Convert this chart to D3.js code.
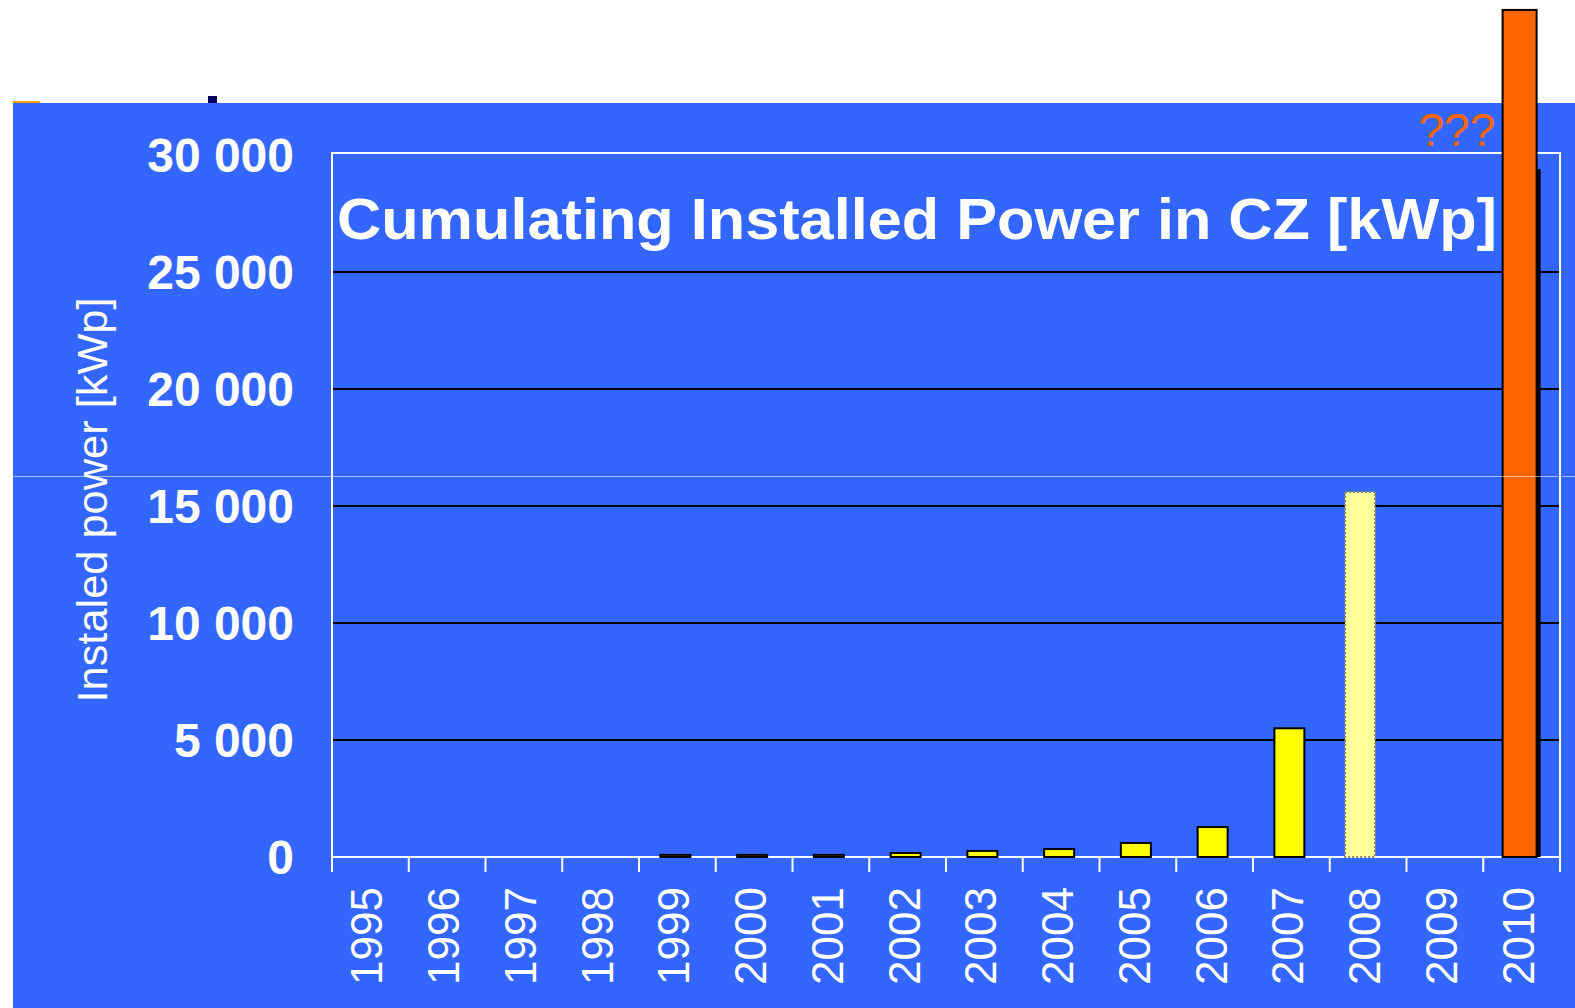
<!DOCTYPE html>
<html>
<head>
<meta charset="utf-8">
<script src="https://cdn.jsdelivr.net/npm/d3@7"></script>
<style>
  html, body { margin: 0; padding: 0; background: #fff; }
  svg { display: block; }
</style>
</head>
<body>
<div id="chart"></div>
<script>
// years on the x axis
var years = ["1995", "1996", "1997", "1998", "1999", "2000", "2001", "2002",
  "2003", "2004", "2005", "2006", "2007", "2008", "2009", "2010"];
// cumulative installed power [kWp]
var installed = [0, 0, 0, 0, 90, 90, 90, 170, 260, 340, 600, 1280, 5500, 15600, 0, 29400];
// the orange "???" guess for 2010, runs out of the frame
var guessYear = "2010";
var guessValue = 36200;
// year drawn as a pale, dotted bar
var paleYears = ["2008"];
var yTicks = [0, 5000, 10000, 15000, 20000, 25000, 30000];

var width = 1575, height = 1008;
var margin = {left: 332, right: 15, top: 155, bottom: 151};

var svg = d3.select('#chart')
  .append('svg')
  .attr('width', width)
  .attr('height', height);

//Blue slide background
svg.append('rect')
  .attr('x', 13).attr('y', 103)
  .attr('width', width - 13).attr('height', height - 103)
  .attr('fill', '#3366ff');

// little leftovers on the slide edge
svg.append('rect').attr('x', 13).attr('y', 101).attr('width', 27).attr('height', 2).attr('fill', '#ff9900');
svg.append('rect').attr('x', 208).attr('y', 96).attr('width', 9).attr('height', 7).attr('fill', '#000066');

var x = d3.scaleBand()
  .domain(years)
  .range([margin.left, width - margin.right]);

var y = d3.scaleLinear()
  .domain([0, 30000])
  .range([height - margin.bottom, margin.top]);

var fmt = function (d) {
  return d3.format(',')(d).replace(/,/g, ' ');
};

//Grid lines
svg.selectAll('.grid')
  .data(yTicks.filter(function (d) { return d > 0 && d < 30000; }))
  .enter()
  .append('line')
  .attr('class', 'grid')
  .attr('x1', x.range()[0])
  .attr('x2', x.range()[1])
  .attr('y1', function (d) { return y(d); })
  .attr('y2', function (d) { return y(d); })
  .style('stroke', '#000')
  .style('stroke-width', '2px');

//Plot frame
svg.append('rect')
  .attr('x', x.range()[0])
  .attr('y', y(30000) - 2)
  .attr('width', x.range()[1] - x.range()[0])
  .attr('height', y(0) - y(30000) + 2)
  .attr('fill', 'none')
  .style('stroke', '#fff')
  .style('stroke-width', '2px');

//Title inside the plot
svg.append('text')
  .attr('x', x.range()[0] + 5)
  .attr('y', 239)
  .attr('textLength', 1160)
  .attr('lengthAdjust', 'spacingAndGlyphs')
  .style('font-family', 'Liberation Sans, Arial, sans-serif')
  .style('font-weight', 'bold')
  .style('font-size', '57px')
  .attr('fill', '#fff')
  .text('Cumulating Installed Power in CZ [kWp]');

//Y tick labels
svg.selectAll('.yLabel')
  .data(yTicks)
  .enter()
  .append('text')
  .attr('class', 'yLabel')
  .attr('x', 294)
  .attr('y', function (d) { return y(d); })
  .attr('dy', '0.36em')
  .attr('text-anchor', 'end')
  .style('font-family', 'Liberation Sans, Arial, sans-serif')
  .style('font-weight', 'bold')
  .style('font-size', '48px')
  .attr('fill', '#fff')
  .text(fmt);

//Y axis title
svg.append('text')
  .attr('transform', 'translate(107,' + 500 + ') rotate(-90)')
  .attr('text-anchor', 'middle')
  .attr('textLength', 405)
  .attr('lengthAdjust', 'spacingAndGlyphs')
  .style('font-family', 'Liberation Sans, Arial, sans-serif')
  .style('font-size', '42px')
  .attr('fill', '#fff')
  .text('Instaled power [kWp]');

//X ticks at band edges
var edges = years.map(function (d) { return x(d); }).concat([x.range()[1]]);
svg.selectAll('.xTick')
  .data(edges)
  .enter()
  .append('line')
  .attr('class', 'xTick')
  .attr('x1', function (d) { return d; })
  .attr('x2', function (d) { return d; })
  .attr('y1', y(0))
  .attr('y2', y(0) + 15)
  .style('stroke', '#fff')
  .style('stroke-width', '2px');

//X labels, rotated
svg.selectAll('.xLabel')
  .data(years)
  .enter()
  .append('text')
  .attr('class', 'xLabel')
  .attr('transform', function (d) {
    return 'translate(' + (x(d) + x.bandwidth() / 2 + 12) + ',' + (y(0) + 30) + ') rotate(-90)';
  })
  .attr('text-anchor', 'end')
  .style('font-family', 'Liberation Sans, Arial, sans-serif')
  .style('font-size', '44px')
  .attr('fill', '#fff')
  .text(function (d) { return d; });

var data = years.map(function (d, i) {
  return {year: d, value: installed[i]};
}).filter(function (d) { return d.value > 0; });

var barW = 30;

//Dark bar for 2010, mostly covered by the orange guess
svg.selectAll('.darkBar')
  .data(data.filter(function (d) { return d.year === guessYear; }))
  .enter()
  .append('rect')
  .attr('class', 'darkBar')
  .attr('x', function (d) { return x(d.year) + x.bandwidth() / 2 - 16; })
  .attr('y', function (d) { return y(d.value); })
  .attr('width', 35)
  .attr('height', function (d) { return y(0) - y(d.value); })
  .attr('fill', '#000');

//Yellow bars
svg.selectAll('.bar')
  .data(data.filter(function (d) { return d.year !== guessYear; }))
  .enter()
  .append('rect')
  .attr('class', 'bar')
  .attr('x', function (d) {
    var shift = paleYears.indexOf(d.year) >= 0 ? -8 : -2;
    return x(d.year) + x.bandwidth() / 2 - barW / 2 + shift;
  })
  .attr('y', function (d) { return y(d.value); })
  .attr('width', barW)
  .attr('height', function (d) { return y(0) - y(d.value); })
  .attr('fill', function (d) { return paleYears.indexOf(d.year) >= 0 ? '#ffff99' : '#ffff00'; })
  .style('stroke', function (d) { return paleYears.indexOf(d.year) >= 0 ? '#888866' : '#000'; })
  .style('stroke-width', '2px')
  .style('stroke-dasharray', function (d) { return paleYears.indexOf(d.year) >= 0 ? '2,2' : null; });

//Orange guess bar
svg.append('rect')
  .attr('x', x(guessYear) + x.bandwidth() / 2 - 19)
  .attr('y', y(guessValue))
  .attr('width', 34)
  .attr('height', y(0) - y(guessValue))
  .attr('fill', '#ff6600')
  .style('stroke', '#000')
  .style('stroke-width', '2px');

svg.append('text')
  .attr('x', x(guessYear) + 12)
  .attr('y', 146)
  .attr('text-anchor', 'end')
  .style('font-family', 'Liberation Sans, Arial, sans-serif')
  .style('font-size', '46px')
  .attr('fill', '#ff6600')
  .text('???');

// faint scan line across the slide
svg.append('line')
  .attr('x1', 13).attr('x2', width)
  .attr('y1', 476.5).attr('y2', 476.5)
  .style('stroke', 'rgba(255,255,255,0.55)')
  .style('stroke-width', '1px');
</script>
</body>
</html>
